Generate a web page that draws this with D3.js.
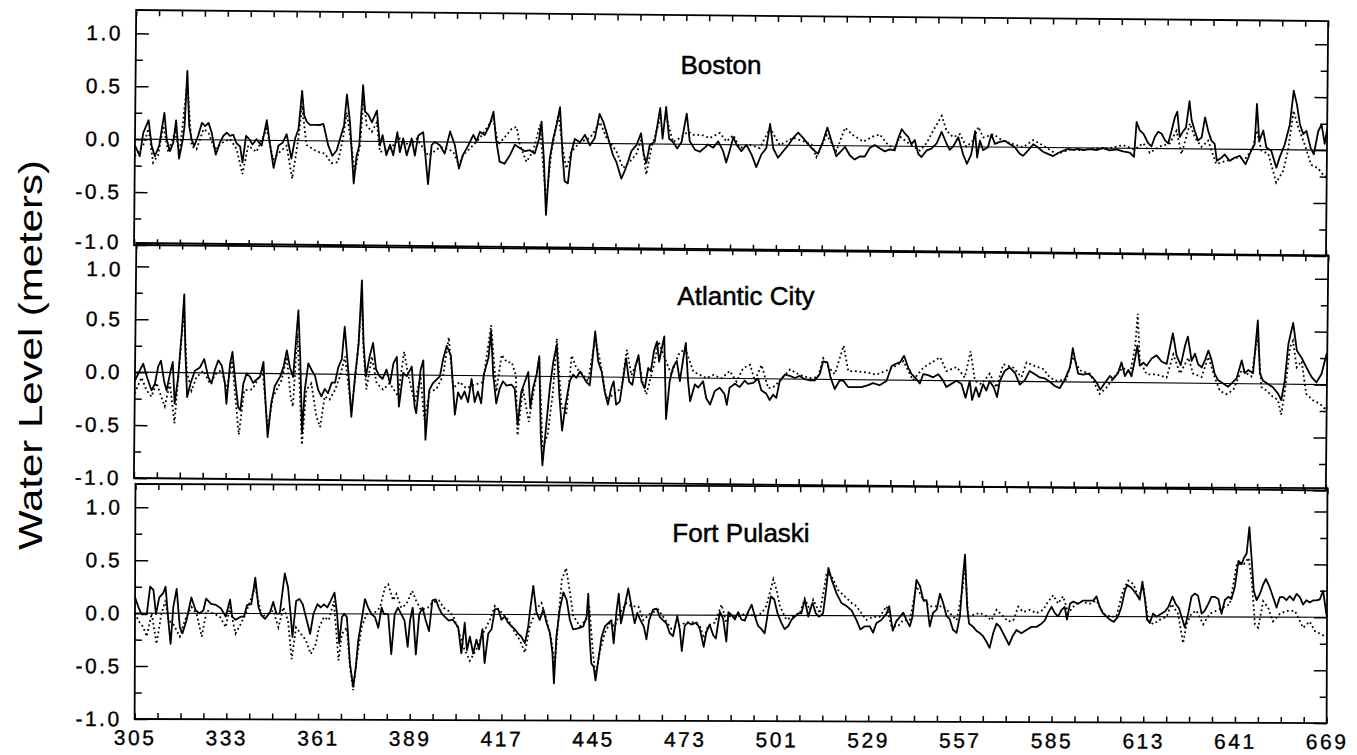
<!DOCTYPE html>
<html><head><meta charset="utf-8">
<script src="https://cdn.jsdelivr.net/npm/d3@7"></script>
<style>
body{margin:0;background:#fff}
text{font-family:"Liberation Sans",Arial,Helvetica,sans-serif;fill:#000}
</style></head>
<body><svg id="chart" width="1357" height="755"></svg>
<script>
// ---------------- data (day of year, water level in meters) ----------------
const stationNames = ["Boston", "Atlantic City", "Fort Pulaski"];
const xTickLabels = ["305","333","361","389","417","445","473","501","529","557","585","613","641","669"];
const yTickValues = [-1, -0.5, 0, 0.5, 1];
const yTickLabels = ["-1.0","-0.5","0.0","0.5","1.0"];
const yMinorTicks = [-0.75, -0.25, 0.25, 0.75];

const bostonObserved = [[305,-0.06],[306.5,-0.16],[307.5,0.06],[309.1,0.18],[310.1,-0.06],[311.1,-0.16],[312.4,-0.06],[313.9,0.25],[314.7,0.0],[315.7,-0.11],[316.7,-0.03],[317.5,0.18],[318.5,-0.18],[319.6,0.0],[320.1,0.13],[320.8,0.65],[321.5,0.13],[322.3,0.0],[323.1,-0.06],[324.3,0.04],[325.4,0.16],[326.4,0.13],[327.4,0.16],[328.4,0.07],[329.7,-0.14],[331,-0.02],[332,0.04],[333,0.07],[334,0.04],[335,0.05],[336,-0.03],[337.1,-0.06],[337.9,-0.21],[338.9,0.04],[339.9,0.01],[340.9,-0.04],[342.1,0.01],[343.7,-0.05],[345.2,0.19],[346,0.01],[347.4,-0.26],[348.8,-0.05],[350.1,-0.02],[351.3,0.06],[352.8,-0.17],[353.9,0.02],[354.9,0.11],[355.9,0.47],[356.6,0.24],[357.4,0.18],[358.4,0.15],[360,0.15],[361.5,0.15],[362.5,0.16],[364,-0.04],[365.3,-0.14],[366.6,-0.09],[367.6,0.02],[368.8,0.15],[369.6,0.44],[370.6,0.18],[371.9,-0.4],[372.7,-0.14],[373.5,-0.04],[374.5,0.53],[375.2,0.28],[376.2,0.25],[377.3,0.18],[378.8,0.29],[379.8,-0.04],[380.6,0.06],[381.8,-0.13],[382.9,-0.03],[383.9,-0.13],[385.1,0.09],[385.9,-0.1],[386.9,0.03],[388,-0.13],[389.5,0.03],[390.5,-0.13],[391.5,0.06],[393,0.09],[394.6,-0.4],[395.6,-0.03],[396.6,0],[398.1,-0.03],[399.6,-0.11],[401.2,0.1],[402.7,-0.03],[404,-0.25],[405.2,-0.12],[406.8,-0.03],[408.3,0.07],[409.3,0.01],[410.3,0.1],[411.8,0.07],[413.2,0.16],[414.4,0.29],[415.2,0.04],[416.4,-0.18],[417.9,-0.2],[419.5,-0.12],[421,-0.02],[422.5,-0.05],[424.1,-0.08],[425.6,-0.07],[427.1,-0.1],[428.4,0.04],[429.1,0.2],[429.9,-0.15],[430.7,-0.68],[431.7,-0.15],[432.7,0.04],[433.7,0.17],[434.7,0.34],[435.6,-0.11],[436.3,-0.36],[437.3,-0.38],[438.3,-0.08],[439.3,0.04],[440.9,0.01],[442.4,0.08],[443.9,-0.02],[445.4,0.05],[446.8,0.28],[448,0.2],[449.5,0.05],[451,-0.11],[452,-0.17],[453.6,-0.33],[454.6,-0.26],[455.6,-0.17],[456.6,-0.07],[458.2,-0.01],[459.5,0.1],[460.4,-0.1],[461.2,-0.18],[462.2,-0.01],[463.7,0.02],[465.3,0.34],[466.1,0.05],[467.1,0.35],[468.1,0.05],[469.3,0.02],[470.6,-0.04],[471.9,0.02],[473.4,0.29],[474.4,0.03],[476,-0.05],[477.5,-0.07],[479,-0.03],[480,0],[481.6,-0.03],[483.1,0.03],[484.6,-0.06],[485.6,-0.17],[486.6,-0.06],[487.7,0.07],[488.7,0],[490.2,-0.06],[491.7,0],[493.3,-0.09],[494.8,-0.21],[496.3,-0.09],[497.8,-0.03],[498.9,0.2],[499.9,-0.03],[501.4,-0.12],[502.9,-0.06],[504.5,0],[506,0.07],[507.5,0.12],[509,0.07],[510.6,0.01],[512.1,-0.04],[513.6,-0.08],[515.1,0.04],[516.4,0.17],[517.7,0.04],[519.2,-0.1],[520.7,-0.05],[521.8,-0.01],[523.3,-0.09],[524.8,-0.13],[526.3,-0.1],[527.9,-0.1],[529.4,-0.02],[530.9,0.01],[532.4,-0.02],[534,-0.05],[535.5,-0.03],[537,-0.04],[538,0.07],[539.1,0.16],[540.1,0.12],[541.1,0.09],[542.1,0.02],[543.1,0.06],[544.2,-0.07],[545.2,-0.1],[546.7,-0.04],[548.2,-0.02],[549.8,0.03],[551.3,0.14],[552.8,0.03],[553.8,-0.03],[554.8,0],[556.4,0.09],[557.9,-0.07],[559.1,-0.16],[560.4,-0.07],[561.5,0.15],[562.2,-0.1],[563,0.06],[564,-0.03],[565.5,0],[566.5,0.12],[567.6,0.03],[569.1,0.05],[570.6,0.06],[572.1,0.03],[573.7,0],[575.2,-0.06],[576.2,-0.08],[577.7,-0.03],[579.3,0.03],[580.8,0],[582.3,-0.04],[583.8,-0.06],[585.4,-0.08],[586.9,-0.05],[588.4,-0.03],[590,-0.01],[591.5,-0.02],[593,-0.01],[594.5,-0.02],[596.6,-0.01],[598.6,-0.02],[600.6,0],[602.7,-0.02],[604.7,-0.01],[606.7,-0.03],[608.8,-0.04],[610.1,-0.08],[610.8,0.25],[611.8,0.17],[612.9,0.14],[614.4,0.05],[615.4,0.02],[616.4,0.11],[617.4,0.16],[618.5,0.14],[619.5,0.08],[620.5,0.05],[621.5,0.17],[622.5,0.3],[623.2,0.35],[624,0.11],[625.1,0.17],[625.9,0.2],[626.9,0.45],[627.6,0.27],[628.6,0.17],[629.6,0.08],[630.7,0.11],[631.7,0.3],[632.7,0.17],[633.7,0.08],[634.7,0.05],[635.4,-0.11],[636.8,-0.08],[637.8,-0.05],[639.3,-0.11],[640.8,-0.08],[642.4,-0.06],[644.2,-0.14],[645.9,-0.01],[646.9,0.05],[647.5,0.43],[648.3,0.08],[649.5,0.18],[650.5,0.02],[652,-0.01],[653.6,-0.17],[654.6,-0.07],[656.1,0.05],[657.6,0.24],[658.7,0.56],[659.7,0.43],[660.7,0.24],[661.7,0.15],[662.7,0.18],[664,0.02],[665,-0.04],[666.3,0.18],[667.3,0.24],[668.3,0.06],[669,0.2]];

const bostonModel = [[305,-0.16],[307.5,-0.06],[309.1,0.1],[310.6,-0.22],[312.1,-0.15],[313.6,0.13],[315.2,-0.12],[317.2,0.07],[318.7,-0.12],[320.8,0.54],[322.3,-0.06],[323.8,-0.09],[325.9,0.1],[327.4,0.07],[329.4,-0.09],[331.4,-0.03],[334,0.01],[336,-0.08],[337.9,-0.32],[339.6,-0.05],[342.1,-0.11],[345.2,0.11],[347.2,-0.18],[349.2,-0.11],[351.3,-0.05],[353.1,-0.36],[354.9,0.02],[355.9,0.33],[357.4,-0.04],[360.5,-0.1],[363,-0.12],[365,-0.21],[367,-0.2],[368.5,0.02],[369.6,0.27],[371.1,-0.04],[372.2,-0.29],[373.7,-0.04],[374.7,0.4],[375.7,0.15],[377.3,0.09],[378.8,0.18],[379.8,-0.1],[382.8,-0.07],[385.9,0.03],[388.9,-0.04],[391,0.03],[394.6,-0.13],[398.1,-0.05],[400.1,-0.06],[402.2,-0.09],[404,-0.22],[405.2,-0.12],[407.3,-0.06],[410.3,0.04],[414.4,0.23],[415.9,-0.02],[418.4,0.07],[420,0.13],[421.5,0.15],[422.5,-0.02],[424.6,-0.18],[426.6,-0.08],[428.6,0.17],[430.7,-0.55],[432.2,-0.08],[434.2,0.27],[435.8,-0.08],[436.8,-0.24],[438.3,-0.08],[440.9,0.01],[443.9,0.05],[447,0.2],[449,0.05],[452,-0.07],[454.1,-0.23],[456.1,-0.17],[458.1,-0.1],[459.7,0.05],[461.2,-0.29],[462.7,-0.04],[465.3,0.24],[467.3,0.24],[469.3,0.02],[471.4,0.06],[473.9,0.12],[475.5,0.09],[478,0.09],[480.5,0.06],[483.6,0.11],[485.6,0.03],[487.7,0.09],[489.7,-0.03],[492.8,0],[495.8,-0.03],[498.9,0.16],[501.9,0],[506,0.07],[509,0.04],[511.6,0.01],[513.1,-0.11],[516.2,0.1],[519.2,-0.05],[521.8,0.17],[524.3,0.1],[527.4,0.04],[530.4,0.09],[532.4,0.11],[535,0.01],[537,-0.02],[538.6,0.09],[541.6,0.02],[544.7,-0.04],[546.7,0.03],[548.7,0.15],[551.3,0.29],[552.8,0.15],[554.8,0.09],[556.9,0.12],[558.9,0],[560.9,0.06],[562.5,0.19],[564,0.09],[567.1,0.12],[570.1,0.06],[573.2,0.03],[576.2,0],[579.3,0.07],[582.3,0.02],[586.4,-0.06],[590.5,-0.02],[594.5,-0.02],[598.6,0],[602.7,0],[606.7,0.03],[610.3,-0.01],[612.9,0.05],[614.9,-0.04],[617.9,0.02],[621,0.05],[623,0.17],[624.6,-0.05],[627.1,0.24],[628.6,0.11],[630.7,0.02],[632.7,0.08],[635.2,-0.14],[638.3,-0.11],[641.3,-0.08],[644.4,-0.08],[646.4,0.02],[647.5,0.18],[649,-0.01],[651.1,-0.04],[653.6,-0.31],[655.7,-0.2],[657.1,-0.01],[658.7,0.37],[660.2,0.21],[662.2,0.05],[664.2,-0.14],[666.3,-0.17],[667.8,-0.23],[669,-0.26]];

const atlanticObserved = [[305,-0.08],[306.5,0.02],[307.5,0.08],[308.6,-0.04],[310.1,-0.17],[311.1,-0.11],[312.1,0.06],[312.9,0.11],[313.9,-0.08],[314.7,-0.17],[315.7,-0.01],[316.5,0.1],[317.2,-0.29],[318.2,-0.04],[319.2,0.4],[319.8,0.74],[320.3,0.21],[321,-0.23],[322,-0.1],[323.3,0.02],[324.8,0.05],[326.1,0.13],[327.4,-0.04],[328.4,-0.1],[329.4,0.03],[330.4,0.12],[331.5,0.07],[332.5,-0.1],[333,-0.29],[334,0.09],[334.7,0.2],[335.5,-0.03],[336.6,-0.32],[337.3,-0.35],[338.1,-0.1],[339.1,0],[340.1,-0.03],[341.1,-0.09],[342.1,-0.06],[343.2,-0.03],[344.2,0.11],[344.7,-0.16],[345.7,-0.6],[346.7,-0.28],[347.7,-0.12],[349.3,-0.03],[350.3,0.06],[351.3,0.22],[352.3,0.06],[353.3,-0.03],[354.7,0.6],[355.4,0.16],[356.2,-0.56],[356.9,-0.15],[357.9,0.1],[358.9,0.04],[360,-0.02],[361,-0.15],[362,-0.21],[363,-0.14],[364,-0.18],[365.1,-0.08],[366.1,-0.08],[367.1,0.07],[368.1,0.14],[368.9,0.45],[370.1,0.04],[371.2,-0.4],[372.2,-0.02],[373.2,0.29],[374,0.89],[374.7,0.3],[375.5,-0.02],[376.6,0.17],[377.6,0.3],[378.6,0.05],[379.6,-0.01],[380.6,-0.04],[381.8,0.05],[382.9,-0.08],[383.9,0.11],[384.9,0.17],[385.7,-0.3],[386.9,0.02],[388,-0.01],[389.5,0.08],[390.5,-0.3],[391,-0.36],[392.2,0.05],[393,0.14],[393.9,-0.61],[394.9,-0.14],[395.9,-0.08],[397.1,-0.04],[398.1,-0.01],[399.1,0.16],[400.1,0.28],[401.4,0.19],[402.2,-0.12],[402.8,-0.37],[403.7,-0.16],[404.7,-0.22],[405.7,-0.15],[406.8,-0.25],[407.8,-0.03],[408.8,-0.25],[409.8,-0.15],[410.8,-0.26],[411.5,0.01],[412.9,0.17],[413.6,0.42],[414.4,0.01],[415.4,-0.26],[416.4,-0.12],[417.4,-0.05],[418.5,-0.09],[420,-0.08],[421,-0.12],[422,-0.46],[423,-0.15],[424.1,-0.05],[425.1,0.04],[425.8,-0.3],[426.6,-0.11],[427.6,0.01],[428.4,0.19],[429.1,-0.55],[429.7,-0.84],[430.5,-0.55],[431.7,-0.11],[432.7,0.14],[433.7,0.3],[434.7,-0.2],[435.6,-0.51],[436.6,-0.26],[437.8,-0.04],[438.8,0.02],[439.8,-0.01],[440.9,0.05],[441.9,0],[442.9,-0.05],[443.9,-0.08],[444.7,0.18],[445.4,0.43],[446.4,0.15],[447.5,0.05],[448.5,-0.14],[449.5,-0.26],[450.5,-0.1],[451.2,-0.04],[452,-0.26],[453.1,-0.23],[454.1,-0.01],[454.9,0.18],[455.9,-0.04],[456.9,-0.07],[457.9,0.12],[458.7,0.21],[459.7,-0.04],[460.7,-0.1],[461.7,0.09],[462.5,0.06],[463.4,0.25],[464.3,0.34],[465,0.15],[465.8,0.28],[466.5,0.39],[467.3,-0.39],[468.3,-0.03],[469.3,0.1],[470.4,0.16],[471.4,-0.03],[472.4,0.19],[473.1,0.33],[473.9,-0.03],[474.6,-0.22],[476,-0.06],[477,-0.09],[478.5,-0.03],[479.5,-0.19],[480.7,-0.25],[482.1,-0.12],[483.6,-0.09],[485.1,-0.15],[485.8,-0.25],[486.6,-0.09],[488.2,-0.05],[489.7,-0.08],[491.2,-0.02],[492.2,-0.05],[493.8,-0.04],[495.3,0],[496.3,-0.11],[497.8,-0.14],[498.9,-0.2],[499.9,-0.15],[500.9,-0.18],[501.9,-0.02],[503.4,0.04],[505,0.03],[506.5,0.01],[508,0.03],[509.5,0],[511.1,-0.01],[512.6,-0.01],[514.1,0.05],[515.1,0.17],[516.4,0.16],[517.4,0.02],[518.7,-0.09],[520.2,-0.01],[521.3,-0.01],[522.8,-0.07],[524.8,-0.07],[526.9,-0.07],[528.9,-0.05],[530.4,-0.03],[532.4,-0.05],[534.5,-0.01],[536,0.13],[537,0.15],[538.6,0.17],[539.8,0.23],[541.1,0.12],[542.1,0.06],[543.1,0.03],[544.7,-0.03],[545.7,0.06],[547.2,0.05],[548.7,0.03],[550.3,0.06],[551.8,0],[552.8,-0.06],[554.3,-0.03],[555.9,0],[557.4,-0.03],[558.7,-0.16],[559.9,0],[560.7,-0.18],[561.8,-0.06],[562.8,-0.15],[564,-0.03],[565,-0.09],[566,0],[567.3,-0.06],[568.3,-0.15],[569.1,0],[570.6,0.1],[572.1,0.13],[573.7,0.08],[575.2,-0.03],[576.7,0.01],[578.2,0.1],[579.8,0.07],[581.3,0.04],[582.8,0.03],[584.4,0],[585.9,-0.04],[587.4,-0.06],[588.9,0.02],[590.5,0.14],[591.3,0.32],[592,0.21],[593,0.08],[594.5,0.07],[596.1,0.08],[597.6,0.04],[598.8,-0.01],[599.8,-0.07],[601.1,-0.01],[602.7,0.06],[603.7,0.03],[605.2,0.09],[606.2,0.19],[607.3,0.06],[608.3,0.12],[609.3,0.06],[610.3,0.22],[611,0.35],[611.8,0.16],[612.9,0.19],[613.9,0.16],[615.4,0.23],[616.9,0.26],[618.5,0.2],[620,0.18],[621.8,0.47],[623,0.26],[624.3,0.17],[625.6,0.36],[626.4,0.44],[627.6,0.21],[628.6,0.28],[629.6,0.18],[630.7,0.15],[631.7,0.22],[632.7,0.31],[633.7,0.22],[634.7,0.09],[635.8,0.03],[637.3,0],[638.8,-0.03],[639.8,0],[641.4,0.05],[642.9,0.22],[643.9,0.1],[644.9,0.13],[646.4,0.1],[647.7,0.6],[648.5,0.1],[649.5,0.03],[651,0],[652.5,-0.03],[654.1,-0.09],[655.1,-0.15],[656.1,0.03],[657.1,0.38],[658.5,0.58],[659.7,0.32],[661.2,0.25],[662.7,0.16],[664.3,0.07],[665.8,0.02],[667.3,0.1],[668.8,0.29],[669,0.23]];

const atlanticModel = [[305,-0.2],[307,-0.05],[308.6,-0.17],[310.1,-0.23],[311.6,-0.1],[313.1,-0.23],[314.2,-0.32],[315.7,-0.1],[317.2,-0.48],[318.7,0.15],[319.8,0.59],[320.8,0.02],[322.3,-0.17],[323.8,-0.04],[325.9,0.02],[327.9,-0.1],[329.9,0],[331.5,0.03],[333,-0.16],[334.7,0.12],[335.5,-0.16],[336.9,-0.58],[338.4,-0.16],[340.9,-0.15],[344,0.03],[345.7,-0.53],[347.2,-0.22],[349.8,-0.06],[351.3,0.16],[352.6,-0.22],[353.3,-0.31],[354.5,0.38],[356.2,-0.67],[357.4,-0.15],[358.9,-0.09],[360.5,-0.4],[361.7,-0.5],[363,-0.21],[364.5,-0.24],[366.1,-0.15],[367.6,-0.02],[369.1,0.17],[370.1,-0.08],[371.2,-0.34],[372.7,0.1],[374,0.7],[374.7,0.23],[375.7,-0.14],[377.3,0.17],[378.8,-0.08],[380.8,-0.14],[382.8,-0.08],[385.4,-0.2],[387.1,0.22],[388.5,-0.01],[390.5,-0.26],[392.2,-0.01],[393.5,-0.42],[395,-0.16],[397.1,-0.13],[399.1,0],[400.7,0.36],[402.2,-0.12],[404.2,-0.06],[406.2,-0.12],[408.3,-0.09],[411.3,-0.06],[413.6,0.48],[415.4,-0.15],[416.9,0.2],[418.5,0.13],[420,0.13],[421.3,0.01],[422,-0.56],[423.5,-0.12],[425.4,-0.43],[426.6,-0.18],[428.4,0.17],[429.7,-0.68],[431.2,-0.55],[432.7,-0.14],[433.7,0.36],[435.3,-0.27],[436.8,-0.36],[438.3,0.2],[439.8,0.08],[441.9,0.02],[443.4,-0.04],[445.4,0.36],[447,0.15],[449,-0.2],[451,-0.17],[453.6,-0.1],[455.1,0.26],[456.6,0.02],[458.7,0.18],[460.2,-0.07],[461.2,-0.16],[463.2,0.09],[464.8,0.34],[466.8,0.18],[468.8,0.03],[470.9,0.22],[472.9,0.28],[475.5,0.06],[477.5,0.03],[479.5,0],[481.6,0.03],[484.1,0],[486.6,0.07],[488.7,-0.03],[490.7,0.1],[492.8,0.13],[494.3,-0.02],[496.3,0.13],[498.4,-0.09],[499.9,-0.08],[501.9,-0.02],[505,0.09],[508,0.04],[511.1,0.01],[513.6,0.02],[515.1,0.2],[516.9,0.11],[518.7,0.05],[521.3,0.32],[522.8,0.08],[525.3,0.08],[528.4,0.07],[531.4,0.05],[534.5,0.09],[536.5,0.12],[539.6,0.18],[542.6,0],[545.7,0.12],[547.7,0.16],[550.8,0.22],[552.8,0.09],[555.9,0.13],[558.4,0.03],[560.1,0.28],[561.5,0],[563.5,-0.03],[566,0.07],[568.1,-0.06],[570.1,0.16],[573.2,0.13],[575.7,0.04],[577.2,0.18],[580.3,0.14],[582.3,0.12],[584.4,0.04],[586.4,0.01],[589.4,0.02],[591.3,0.24],[593.5,0.11],[596.6,0.08],[599.6,-0.11],[601.7,-0.05],[604.7,0.08],[606.7,0.14],[608.8,0.08],[610.3,0.33],[611,0.65],[611.8,0.21],[613.9,0.08],[616.9,0.08],[620,0.05],[622,0.27],[624.1,0.09],[626.6,0.24],[628.1,0.09],[630.7,0.06],[632.7,0.25],[634.7,0.06],[636.3,-0.07],[638.3,-0.1],[640.4,-0.06],[642.9,0.13],[645.9,0.07],[647.7,0.45],[649,-0.03],[650.5,-0.06],[652.5,-0.12],[654.1,-0.15],[655.1,-0.29],[656.1,-0.09],[657.6,0.35],[658.5,0.41],[659.7,0.16],[661.2,0.22],[662.7,-0.09],[664.8,-0.15],[666.8,-0.18],[668.8,-0.24],[669,-0.21]];

const pulaskiObserved = [[305,0.15],[306,0.06],[307,-0.01],[308.6,-0.01],[309.6,0.25],[310.6,0.22],[311.4,-0.01],[312.4,0.15],[313.6,0.19],[314.3,0.25],[315.2,-0.07],[315.9,-0.29],[316.7,0.06],[317.7,0.23],[318.7,-0.13],[319.5,-0.19],[320.7,-0.07],[322.2,0.15],[323.5,0.03],[324.7,0],[325.9,0.03],[326.7,0.14],[328.2,0.09],[329.7,0.08],[331.2,0.05],[332.7,-0.03],[334,0.13],[334.7,-0.03],[335.7,-0.06],[337.3,-0.03],[338.3,-0.03],[339.2,0.08],[340.5,0.09],[341.7,0.34],[342.7,0.06],[343.7,-0.02],[344.7,-0.05],[346.2,0.01],[347.2,0.11],[348.2,0],[349.2,0],[350.7,0.38],[351.7,0.25],[352.5,0],[353.1,-0.22],[354.2,0.12],[355.2,0.14],[356.2,0.09],[357.2,-0.03],[358.5,-0.19],[359.5,0],[360.7,0.09],[361.7,0.06],[362.7,0.09],[363.7,0.06],[364.7,0.12],[365.9,0.2],[366.7,0],[367.4,-0.28],[368.2,-0.03],[368.9,0],[369.7,-0.03],[370.7,-0.47],[371.7,-0.69],[372.5,-0.5],[373.2,-0.25],[374.2,-0.06],[375.2,0.14],[376.2,0.06],[377.2,0],[378.3,-0.03],[379.3,-0.13],[380.3,0.06],[381,0],[382.3,0],[383.3,-0.38],[384.3,0],[385.3,0.06],[386.3,0],[387.3,-0.06],[388.3,-0.31],[389,-0.06],[389.8,0.06],[390.8,-0.38],[391.8,0],[392.8,0.06],[393.8,-0.06],[394.8,-0.16],[395.8,0.13],[396.8,0.14],[397.8,0.06],[398.8,0],[399.8,-0.03],[400.8,-0.06],[402,-0.05],[402.7,-0.08],[403.7,-0.12],[404.7,-0.37],[405.7,-0.08],[406.4,-0.34],[407.3,-0.21],[408.3,-0.37],[409.3,-0.24],[410.1,-0.33],[411.1,-0.14],[411.8,-0.46],[412.9,-0.18],[413.9,-0.14],[414.9,0.05],[415.9,0.05],[416.9,-0.05],[417.9,-0.02],[419,-0.08],[420,-0.11],[421,-0.14],[422,-0.18],[423,-0.21],[424.1,-0.27],[425.1,-0.11],[425.8,0.08],[426.6,0.27],[427.6,0.02],[428.6,-0.05],[429.7,0.05],[430.7,-0.08],[431.7,-0.17],[432.5,-0.36],[433,-0.65],[433.7,-0.21],[434.7,0.05],[435.8,0.21],[436.8,0.14],[437.8,-0.05],[438.8,-0.14],[440.3,-0.13],[441.9,-0.11],[442.9,-0.02],[443.4,0.2],[443.9,-0.24],[444.4,-0.46],[445.1,-0.49],[445.7,-0.62],[446.4,-0.46],[447.5,-0.21],[448.5,-0.11],[449.5,-0.08],[450.5,-0.05],[451.2,-0.27],[452,0.02],[452.7,0.2],[453.4,-0.08],[454.1,0.02],[454.9,0.14],[455.6,0.25],[456.6,0.08],[457.6,-0.08],[458.4,0.02],[459.2,-0.04],[460.4,-0.11],[461.2,-0.23],[462,-0.05],[463.2,0.05],[464.3,0.06],[465.3,-0.02],[466.3,-0.05],[467.3,-0.08],[468.3,-0.17],[469.3,-0.2],[470.6,-0.01],[471.4,-0.14],[472,-0.34],[472.9,-0.1],[473.9,-0.07],[474.9,-0.09],[476.5,-0.07],[477.5,-0.13],[478.7,-0.3],[479.5,-0.16],[480.5,-0.09],[481.6,-0.19],[482.4,-0.22],[483.6,0.03],[484.6,-0.03],[485.6,-0.25],[486.2,0.03],[487.2,0],[488.2,-0.04],[489.2,0.03],[490.2,-0.04],[491.2,-0.05],[492.2,0.03],[493.3,0.1],[494.3,-0.01],[495.3,-0.1],[496.3,-0.13],[497.3,-0.17],[498.4,0.05],[499.2,0.18],[500.2,0.15],[501.2,0.02],[502.4,-0.07],[503.4,-0.13],[504.5,-0.1],[505.5,-0.04],[506.5,-0.01],[507.5,0.02],[508.5,0.02],[509.5,0.15],[510.6,-0.01],[511.9,0.12],[512.9,0.02],[513.9,-0.01],[515.1,0.02],[516,0.24],[516.7,0.45],[517.7,0.34],[519.2,0.21],[520.7,0.12],[522.3,0.09],[523.8,0.05],[525.3,-0.04],[526.5,-0.13],[527.9,-0.1],[529.4,-0.1],[530.4,-0.16],[531.4,-0.07],[532.9,-0.04],[534.5,0.02],[535.3,0.09],[536.4,-0.14],[537.5,-0.05],[538.6,-0.01],[539.6,0.03],[540.6,-0.04],[541.6,-0.1],[542.4,-0.01],[543.6,0.34],[544.7,0.28],[545.7,0.15],[546.7,0.15],[547.7,-0.1],[548.7,0.03],[549.8,0.06],[550.8,0.21],[551.8,0.12],[552.8,0],[553.8,-0.03],[554.8,-0.13],[555.9,-0.16],[556.9,0],[557.7,0.34],[558.4,0.58],[559.1,0.09],[559.7,-0.07],[560.9,-0.1],[562,-0.14],[563,-0.16],[564,-0.19],[565,-0.24],[566,-0.3],[567.1,-0.16],[568.1,-0.07],[569.1,-0.1],[570.1,-0.16],[571.1,-0.22],[571.9,-0.27],[573,-0.19],[574.2,-0.13],[575.7,-0.16],[577.2,-0.13],[578.8,-0.1],[580.3,-0.1],[581.8,-0.07],[582.8,-0.04],[583.8,0.03],[584.9,0.09],[585.9,0.03],[586.9,0],[587.9,0.06],[588.9,0.09],[589.6,-0.03],[590.5,0.12],[591.5,0.14],[593,0.12],[594.5,0.15],[596.1,0.15],[597.6,0.15],[598.6,0.19],[599.6,0.09],[600.6,0.03],[601.7,0],[602.7,-0.03],[603.9,-0.05],[605.2,0],[606.2,0.09],[607.3,0.25],[608,0.3],[609.3,0.27],[610.6,0.22],[611.8,0.16],[612.6,0.33],[613.4,0.16],[614.1,-0.03],[614.9,-0.06],[615.9,0.03],[616.9,0],[618.5,0.03],[619.5,0.05],[620.5,0.09],[621.8,0.19],[622.8,0.12],[623.8,0.08],[624.9,-0.03],[625.6,-0.1],[626.6,0.03],[627.6,0.19],[628.6,0.22],[629.6,0.2],[630.7,0.03],[631.7,0.06],[632.7,0.12],[633.7,0.19],[634.7,0.19],[635.8,0.17],[636.8,0.03],[637.8,0.16],[638.8,0.19],[639.8,0.17],[640.8,0.28],[641.9,0.53],[642.9,0.5],[643.6,0.56],[644.4,0.6],[645.2,0.85],[645.9,0.56],[646.6,0.25],[647.5,0.16],[648.5,0.22],[649.5,0.31],[650.3,0.36],[651.5,0.28],[652.5,0.19],[653.6,0.09],[654.6,0.19],[655.6,0.19],[656.6,0.16],[657.6,0.2],[658.7,0.16],[659.7,0.22],[660.7,0.19],[661.7,0.12],[662.7,0.16],[663.7,0.14],[664.8,0.16],[665.8,0.16],[666.8,0.17],[667.8,0.25],[668.8,0.03],[669,0]];

const pulaskiModel = [[305,0],[306,-0.07],[307.5,-0.13],[308.6,-0.22],[310.1,0],[311.6,-0.29],[313.1,0],[314.3,0.12],[315.2,-0.07],[316.7,-0.1],[318.7,-0.22],[320.2,-0.07],[322.2,0.06],[323.8,0],[325.4,-0.22],[326.9,0.03],[328.9,0],[330.9,-0.03],[332.7,-0.13],[334,0.06],[335.7,-0.19],[337.3,-0.1],[338.8,0],[341.7,0.25],[343.7,-0.03],[345.7,0],[347.2,0.03],[348.8,-0.13],[350.3,0.06],[351.7,-0.06],[352.9,-0.43],[354.2,-0.13],[355.7,-0.19],[357.2,-0.25],[358.7,-0.38],[360.2,-0.29],[361.2,-0.13],[362.7,-0.03],[364.2,-0.06],[365.7,0.12],[367.2,-0.44],[368.2,-0.19],[369.7,-0.13],[370.7,-0.5],[371.7,-0.72],[372.7,-0.44],[374.2,-0.13],[375.7,0],[377.7,0],[379.8,0.06],[381.3,0.25],[382.3,0.28],[383.8,0.13],[384.8,0.19],[386.3,0.06],[387.8,0.09],[389.6,0.22],[390.8,0.13],[392.3,0.04],[394.4,0.06],[395.8,0.11],[397.8,0.13],[399.3,0.06],[400.8,0.03],[402.2,-0.02],[403.7,-0.14],[405.2,-0.3],[407.3,-0.44],[409.3,-0.33],[411.3,-0.18],[413.4,-0.05],[414.9,0.08],[416.9,0.02],[419,-0.05],[421,-0.17],[422.5,-0.24],[424.1,-0.36],[425.6,-0.11],[427.6,0.05],[429.1,0.11],[430.7,-0.05],[432.2,-0.24],[433.2,-0.49],[434.2,-0.08],[435.3,0.33],[436.6,0.44],[437.8,0.21],[438.8,-0.01],[440.9,-0.11],[442.9,-0.04],[443.7,0.08],[444.9,-0.36],[445.7,-0.58],[446.9,-0.36],[448.5,-0.17],[450,-0.08],[451.5,-0.11],[453.1,0.02],[455.1,0.11],[456.6,0.08],[458.7,0.08],[460.2,-0.05],[462.2,0.01],[464.8,0.05],[466.8,-0.04],[468.8,-0.13],[470.9,-0.1],[473.4,-0.07],[475.5,-0.07],[477.5,-0.1],[478.7,-0.22],[480,-0.1],[482.1,-0.07],[484.1,0.1],[485.6,-0.07],[486.6,-0.01],[489.2,-0.01],[491.7,0.02],[494.3,-0.01],[496.3,0.02],[497.8,0.09],[499.9,0.34],[500.9,0.24],[501.9,0.09],[503.9,-0.04],[506,-0.01],[508,0.02],[509.5,0.16],[511.1,0.05],[512.1,0.15],[514.1,0.02],[516.2,0.4],[517.7,0.37],[519.7,0.24],[521.8,0.18],[523.8,0.12],[525.3,0.09],[526.9,0.02],[528.4,-0.04],[530.4,-0.01],[532.4,-0.01],[534.5,0.09],[536,-0.1],[538,-0.1],[539.6,-0.04],[541.6,-0.04],[543.6,0.28],[545.7,0.15],[547.7,0.09],[549.8,0.09],[551.8,0.09],[553.8,0.03],[555.9,-0.04],[557.7,0.25],[558.4,0.5],[559.4,0],[560.9,0.01],[563,0.03],[565,0],[566.5,-0.04],[568.1,0.06],[570.1,0],[571.6,-0.05],[573.2,-0.04],[574.7,0.09],[576.2,0.04],[578.2,0.06],[580.3,0.03],[582.3,0.06],[583.8,0.14],[585.4,0.2],[586.9,0.12],[588.4,0.19],[590,0.03],[592,0.11],[594,0.14],[596.6,0.12],[598.6,0.15],[600.6,0.03],[602.7,0],[604.7,0],[606.7,0.25],[608.3,0.34],[609.8,0.31],[611.3,0.19],[612.9,0.28],[614.4,-0.03],[615.9,-0.07],[617.9,-0.03],[620,0],[621.5,0.12],[623.5,0.03],[625.1,-0.25],[626.1,-0.07],[627.6,0.03],[629.1,0.06],[631.2,-0.07],[633.2,0.03],[635.3,0.06],[637.3,0.09],[639.3,0.12],[641.4,0.5],[643.6,0.5],[645,0.56],[646,0.34],[647,-0.07],[648,-0.1],[649.5,0.15],[651,0.09],[652.5,-0.04],[654.6,0.03],[656.6,0.06],[659.2,0.06],[661.7,-0.1],[663.7,-0.04],[665.3,-0.13],[667.3,-0.16],[669,-0.19]];

// ---------------- layout ----------------
const W = 1357, H = 755;
const panelTops = [10, 243, 484];
const panelH = 235;
const tilts = [0.53, 0.6, 0.2];           // the scanned original is slightly rotated
const titlePos = [[721, 74], [746, 305], [741, 542]];
const series = [
  {obs: bostonObserved, model: bostonModel},
  {obs: atlanticObserved, model: atlanticModel},
  {obs: pulaskiObserved, model: pulaskiModel}
];

const svg = d3.select("#chart");
svg.append("rect").attr("width", W).attr("height", H).attr("fill", "#fff");

const x = d3.scaleLinear().domain([305, 669]).range([135, 1327]);
const xMinor = d3.range(305, 670, 7);
const xMajor = xTickLabels.map(Number);

const labelStyle = a => a.selectAll("text")
  .style("font-size", "21px")
  .style("font-family", '"Liberation Sans", Arial, sans-serif')
  .attr("letter-spacing", "2.5px")
  .attr("stroke", "#000").attr("stroke-width", 0.35);

series.forEach((s, i) => {
  const top = panelTops[i];
  const y = d3.scaleLinear().domain([-1, 1.22]).range([top + panelH, top]);
  const g = svg.append("g")
    .attr("transform", `rotate(${tilts[i]},${x(305)},${y(0)})`);

  // zero reference line
  g.append("line")
    .attr("x1", x(305)).attr("x2", x(669))
    .attr("y1", y(0)).attr("y2", y(0))
    .attr("stroke", "#000").attr("stroke-width", 1.1);

  const line = d3.line().x(d => x(d[0])).y(d => y(d[1]));

  g.append("path").datum(s.model)
    .attr("d", line).attr("fill", "none")
    .attr("stroke", "#000").attr("stroke-width", 1.8)
    .attr("stroke-dasharray", "1.8,2.8");

  g.append("path").datum(s.obs)
    .attr("d", line).attr("fill", "none")
    .attr("stroke", "#000").attr("stroke-width", 1.8)
    .attr("stroke-linejoin", "round");

  // frame
  g.append("rect")
    .attr("x", x(305)).attr("y", top)
    .attr("width", x(669) - x(305)).attr("height", panelH)
    .attr("fill", "none").attr("stroke", "#000").attr("stroke-width", 1.8);

  const styleAxis = a => {
    a.select(".domain").remove();
    a.selectAll(".tick line").attr("stroke", "#000").attr("stroke-width", 1.5);
  };

  // x ticks, inward, top and bottom
  g.append("g").attr("transform", `translate(0,${top + panelH})`)
    .call(d3.axisBottom(x).tickValues(xMinor).tickSize(-6).tickFormat(""))
    .call(styleAxis);
  g.append("g").attr("transform", `translate(0,${top})`)
    .call(d3.axisTop(x).tickValues(xMinor).tickSize(-6).tickFormat(""))
    .call(styleAxis);

  // y ticks, inward, left and right
  const gapAbove = i > 0 ? top - (panelTops[i - 1] + panelH) : 99;
  const gapBelow = i < series.length - 1 ? panelTops[i + 1] - (top + panelH) : 99;
  g.append("g").attr("transform", `translate(${x(305)},0)`)
    .call(d3.axisLeft(y).tickValues(yTickValues).tickSize(-13).tickPadding(13)
      .tickFormat((d, k) => yTickLabels[k]))
    .call(styleAxis)
    .call(labelStyle)
    .call(a => a.selectAll(".tick text")
      .attr("transform", d => (d === -1 && gapBelow < 5) ? "translate(0,-3)"
                            : (d === 1 && gapAbove < 5) ? "translate(0,3)" : null));
  g.append("g").attr("transform", `translate(${x(305)},0)`)
    .call(d3.axisLeft(y).tickValues(yMinorTicks).tickSize(-7).tickFormat(""))
    .call(styleAxis);
  g.append("g").attr("transform", `translate(${x(669)},0)`)
    .call(d3.axisRight(y).tickValues(yTickValues).tickSize(-13).tickFormat(""))
    .call(styleAxis);
  g.append("g").attr("transform", `translate(${x(669)},0)`)
    .call(d3.axisRight(y).tickValues(yMinorTicks).tickSize(-7).tickFormat(""))
    .call(styleAxis);

  // x labels on bottom panel only
  if (i === series.length - 1) {
    g.append("g").attr("transform", `translate(0,${top + panelH})`)
      .call(d3.axisBottom(x).tickValues(xMajor).tickSize(0).tickPadding(11)
        .tickFormat((d, k) => xTickLabels[k]))
      .call(a => a.select(".domain").remove())
      .call(labelStyle);
  }

  // station title
  svg.append("text")
    .attr("x", titlePos[i][0]).attr("y", titlePos[i][1])
    .attr("text-anchor", "middle")
    .style("font-size", "26px")
    .attr("stroke", "#000").attr("stroke-width", 0.5)
    .text(stationNames[i]);
});

// y-axis title
svg.append("text")
  .attr("transform", "translate(42,355) rotate(-90)")
  .attr("text-anchor", "middle")
  .style("font-size", "34px")
  .attr("textLength", 390)
  .attr("lengthAdjust", "spacingAndGlyphs")
  .text("Water Level (meters)");
</script></body></html>
